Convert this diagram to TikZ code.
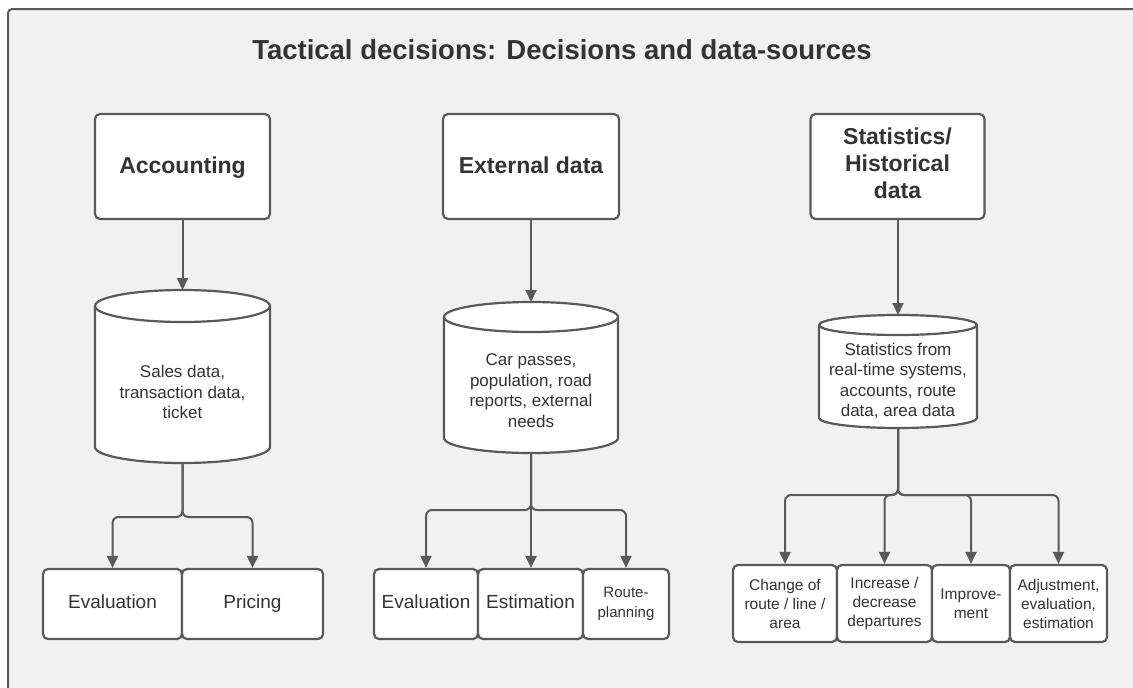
\documentclass[tikz,border=0pt]{standalone}
\usepackage{fontspec}
\setmainfont{Liberation Sans}
\usetikzlibrary{arrows.meta}
\definecolor{ink}{HTML}{333333}
\definecolor{edge}{HTML}{595959}
\definecolor{paper}{HTML}{F1F1F1}

% database cylinder: name, centre x, top y, bottom y, half width, end radius
\newcommand\dbcylinder[6]{%
  \path[cylline] (#2-#5,-#3-#6) -- (#2-#5,-#4+#6)
    arc[start angle=180,end angle=360,x radius=#5pt,y radius=#6pt]
    -- (#2+#5,-#3-#6)
    arc[start angle=0,end angle=180,x radius=#5pt,y radius=#6pt] -- cycle;
  \draw[cylline,fill=none] (#2-#5,-#3-#6)
    arc[start angle=180,end angle=360,x radius=#5pt,y radius=#6pt];
  \coordinate (#1-top) at (#2,-#3);
  \coordinate (#1-bot) at (#2,-#4);
}

\begin{document}
\begin{tikzpicture}[x=1pt,y=1pt,
  frame/.style={draw=edge,line width=2pt,rounded corners=4pt,fill=paper},
  box/.style={draw=edge,line width=2.2pt,fill=white,rounded corners=5pt,
              text=ink,align=center,inner sep=0pt},
  srcbox/.style={box,minimum width=175pt,minimum height=105pt,
                 font=\bfseries\fontsize{23}{27}\selectfont},
  srcline/.style={srcbox,text height=16pt,text depth=3pt},
  leaf/.style={box,minimum height=70pt,font=\fontsize{19}{23}\selectfont},
  leafline/.style={leaf,text height=13pt,text depth=5pt},
  smallleaf/.style={box,minimum height=77pt,font=\fontsize{15.5}{19}\selectfont},
  cylline/.style={draw=edge,line width=2.2pt,fill=white},
  cyltext/.style={text=ink,align=center,font=\fontsize{17}{20.5}\selectfont},
  flow/.style={draw=edge,line width=2pt,rounded corners=6pt,
               -{Triangle[width=11pt,length=12pt]}},
]
\useasboundingbox (0,0) rectangle (1133,-688);
\fill[white] (0,0) rectangle (1133,-688);
\begin{scope}
  \clip (0,0) rectangle (1133,-688);
  \draw[frame] (8,-9) rectangle (1160,-712);
\end{scope}

% title
\node[anchor=base,text=ink,font=\bfseries\fontsize{27.5}{32}\selectfont]
  (title) at (562,-59) {Tactical decisions: Decisions and data-sources};

% data sources
\node[srcline] (acc) at (182.5,-166.5) {Accounting};
\node[srcline,minimum width=176pt] (ext) at (531,-166.5) {External data};
\node[srcbox,minimum width=174pt] (sta) at (897.5,-166.5)
  {\raisebox{3pt}{\begin{tabular}{@{}c@{}}Statistics/\\Historical\\data\end{tabular}}};

% data stores
\dbcylinder{c1}{182.5}{290}{463}{87.5}{16}
\node[cyltext] (c1t) at (182.5,-392) {Sales data,\\transaction data,\\ticket};
\dbcylinder{c2}{531}{302}{453}{87}{15}
\node[cyltext] (c2t) at (531,-390.5) {Car passes,\\population, road\\reports, external\\needs};
\dbcylinder{c3}{898}{315}{428}{79}{10}
\node[cyltext] (c3t) at (898,-381) {Statistics from\\real-time systems,\\accounts, route\\data, area data};

% decisions
\node[leafline,minimum width=139pt] (ev1) at (112.5,-604) {Evaluation};
\node[leafline,minimum width=141pt] (pr1) at (252.5,-604) {Pricing};

\node[leafline,minimum width=104pt] (ev2) at (426,-604) {Evaluation};
\node[leafline,minimum width=105pt] (es2) at (530.5,-604) {Estimation};
\node[leaf,minimum width=86pt,font=\fontsize{15}{20}\selectfont] (rp2) at (626,-604) {Route-\\planning};

\node[smallleaf,minimum width=104pt] (d1) at (785,-603.5) {Change of\\route / line /\\area};
\node[smallleaf,minimum width=95pt] (d2) at (884.5,-603.5) {Increase /\\decrease\\departures};
\node[smallleaf,minimum width=78pt] (d3) at (971,-603.5) {Improve-\\ment};
\node[smallleaf,minimum width=97pt] (d4) at (1058.5,-603.5) {Adjustment,\\evaluation,\\estimation};

% branch points
\coordinate (j1) at (182.5,-517);
\coordinate (j2) at (531,-510);
\coordinate (j3) at (898,-495);

% connectors
\draw[flow] (acc.south) -- (c1-top);
\draw[flow] (ext.south) -- (c2-top);
\draw[flow] (sta.south -| c3-top) -- (c3-top);

\draw[flow] (c1-bot) -- (j1) -| (ev1.north);
\draw[flow] (c1-bot) -- (j1) -| (pr1.north);

\draw[flow] (c2-bot) -- (j2) -| (ev2.north);
\draw[flow] (c2-bot) -- (es2.north -| c2-bot);
\draw[flow] (c2-bot) -- (j2) -| (rp2.north);

\draw[flow] (c3-bot) -- (j3) -| (d1.north);
\draw[flow] (c3-bot) -- (j3) -| (d2.north);
\draw[flow] (c3-bot) -- (j3) -| (d3.north);
\draw[flow] (c3-bot) -- (j3) -| (d4.north);
\end{tikzpicture}
\end{document}
